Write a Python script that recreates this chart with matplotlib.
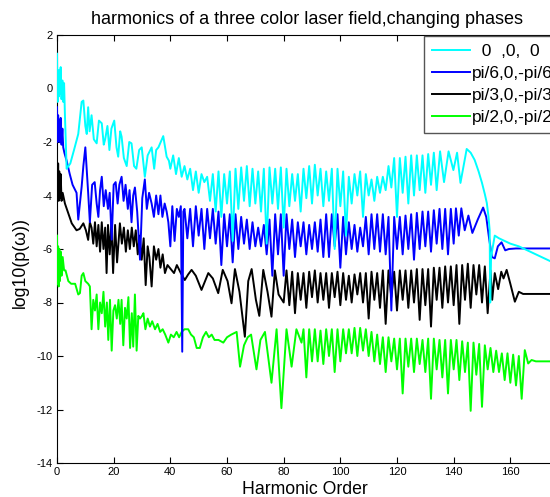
import numpy as np
import matplotlib
matplotlib.use('Agg')
import matplotlib.pyplot as plt

plt.rcParams['font.family'] = ['Liberation Sans', 'DejaVu Sans']
plt.rcParams['axes.unicode_minus'] = False

labels = ['  0  ,0,  0', 'pi/6,0,-pi/6', 'pi/3,0,-pi/3', 'pi/2,0,-pi/2']
colors = ['#00ffff', '#0000ff', '#000000', '#00ff00']

# ---- phases 0,0,0 (cyan) ----
cyan_head_x = [0, 0.2, 0.4, 0.6, 0.8, 1.0, 1.3, 1.6, 1.9, 2.2,
               2.5, 2.8, 3.4, 4.7, 6.0, 7.5, 8.7, 9.3, 10.0, 10.5,
               11.0, 11.5, 12.2, 13.0, 14.0, 14.8, 15.8, 16.5, 17.0, 17.8,
               18.5, 19.2, 20.2, 21.0, 21.6, 22.3, 22.8, 23.6, 24.6, 25.5,
               26.3, 27.2, 28.0, 29.0, 29.9, 31.0, 32.0, 33.4, 34.3, 35.0,
               35.8, 36.6, 37.5, 38.7, 39.5]
cyan_head_y = [1.3, -0.5, 0.6, -0.3, 0.7, -0.2, 0.8, -0.4, 0.3, -0.5,
               0.2, -1.0, -3.0, -2.8, -2.3, -1.7, -0.5, -0.45, -1.4, -1.7,
               -0.7, -1.6, -1.0, -1.9, -2.05, -1.2, -1.3, -2.1, -1.9, -1.4,
               -2.3, -1.5, -1.2, -2.2, -2.55, -1.6, -1.8, -2.6, -2.9, -2.0,
               -2.05, -2.9, -3.0, -2.3, -2.2, -3.3, -2.5, -2.2, -3.0, -2.3,
               -2.2, -2.0, -1.78, -2.55, -2.7]
cyan_grid_start = 40
cyan_grid_y = [-3.0, -2.5, -3.2, -2.6, -3.3, -2.9, -3.4, -3.0, -3.8, -3.1,
               -3.9, -3.2, -3.5, -3.3, -4.2, -3.2, -4.6, -3.1, -4.8, -3.2,
               -4.3, -3.1, -5.7, -3.0, -4.5, -2.95, -4.2, -2.9, -4.4, -3.0,
               -4.3, -3.1, -4.6, -3.0, -5.8, -2.95, -4.3, -3.0, -4.5, -2.95,
               -5.2, -3.0, -4.4, -3.2, -4.2, -3.2, -4.6, -3.0, -4.1, -2.9,
               -4.3, -2.85, -4.0, -3.0, -4.4, -3.1, -4.2, -3.0, -6.0, -3.0,
               -4.4, -3.1, -5.5, -3.3, -4.3, -3.2, -4.0, -3.1, -4.8, -3.2,
               -4.0, -3.4, -4.2, -3.3, -3.9, -3.3, -3.8, -2.9, -3.7, -2.6,
               -4.8, -2.6, -3.9, -2.55, -4.3, -2.5, -4.0, -2.5, -3.8, -2.5,
               -3.9, -2.45, -3.6, -2.4]
cyan_tail_x = [134, 135.2, 136.6, 138.2, 139.9, 141.2, 142.4, 144.6, 146.0, 147.4,
               148.8, 150.0, 151.0, 151.7, 152.3, 152.7, 152.9, 153.2, 154.5, 156,
               158, 160, 163, 166, 170, 174]
cyan_tail_y = [-3.8, -2.35, -3.5, -2.35, -3.05, -2.4, -3.53, -2.26, -2.4, -2.67,
               -3.1, -3.53, -3.95, -4.28, -4.8, -5.3, -8.0, -6.3, -5.5, -5.6,
               -5.7, -5.8, -5.9, -6.05, -6.25, -6.45]

# ---- phases pi/6 (blue) ----
blue_head_x = [0, 0.2, 0.4, 0.6, 0.8, 1.0, 1.3, 1.6, 1.9, 2.2,
               2.6, 3.4, 4.5, 5.5, 6.9, 7.5, 8.7, 9.3, 10.0, 11.0,
               11.6, 12.4, 13.3, 14.0, 14.6, 15.2, 15.8, 16.5, 17.2, 18.0,
               18.6, 19.3, 20.0, 20.7, 21.4, 22.0, 22.8, 23.5, 24.2, 25.0,
               25.6, 26.3, 26.9, 27.5, 28.3, 29.3, 30.1, 31.0, 31.7, 32.5,
               33.4, 34.2, 35.0, 35.8, 36.5, 37.2, 38.0, 38.7, 39.3, 40.0,
               40.7, 41.5, 42.3, 43.0, 43.7, 44.2, 44.6]
blue_head_y = [-0.7, -2.0, -1.0, -1.9, -1.2, -2.0, -1.1, -2.1, -1.5, -2.2,
               -2.4, -2.7, -3.2, -3.6, -3.9, -4.9, -3.67, -2.9, -2.2, -3.9,
               -5.0, -3.6, -3.5, -4.3, -4.8, -3.8, -3.3, -4.4, -3.8, -4.5,
               -3.9, -5.65, -3.6, -3.5, -4.3, -3.6, -3.3, -4.2, -3.6, -4.5,
               -3.8, -5.0, -4.0, -3.7, -4.6, -6.4, -4.1, -3.4, -4.5, -3.9,
               -4.3, -4.8, -4.0, -4.7, -4.0, -4.8, -4.3, -4.6, -5.0, -5.9,
               -4.4, -5.7, -4.5, -4.8, -4.4, -9.84, -4.6]
blue_grid_start = 45
blue_grid_y = [-4.5, -5.6, -4.5, -5.9, -4.4, -5.5, -4.5, -6.0, -4.5, -5.6,
               -4.5, -5.8, -4.6, -6.6, -4.7, -5.9, -4.7, -6.5, -4.7, -6.0,
               -4.8, -5.8, -4.9, -6.0, -5.0, -5.9, -5.2, -5.9, -5.1, -6.2,
               -4.9, -7.0, -4.7, -6.2, -4.7, -7.0, -4.7, -6.0, -4.9, -6.3,
               -5.0, -5.9, -5.0, -6.2, -5.1, -6.0, -5.0, -6.1, -4.9, -6.3,
               -4.7, -6.3, -4.7, -5.9, -4.7, -6.7, -4.8, -6.2, -5.0, -6.0,
               -5.1, -6.1, -5.2, -5.9, -4.8, -6.2, -4.7, -6.0, -4.7, -6.1,
               -4.7, -6.2, -4.8, -8.3, -4.8, -6.0, -4.8, -6.2, -4.75, -6.0,
               -4.7, -6.4, -4.65, -6.0, -4.6, -5.9, -4.6, -6.1, -4.55, -5.8,
               -4.5, -6.0, -4.5, -6.2, -4.5]
blue_tail_x = [140.0, 140.8, 141.8, 142.7, 143.9, 145.2, 146.6, 148.5, 150.4, 151.5,
               152.5, 153.5, 154.5, 155.6, 156.9, 158.2, 159.5, 162.0, 174.0]
blue_tail_y = [-5.8, -4.48, -5.5, -4.48, -5.3, -4.75, -5.4, -4.9, -4.45, -4.8,
               -5.6, -6.3, -6.35, -5.9, -5.75, -6.05, -6.0, -5.98, -5.98]

# ---- phases pi/3 (black) ----
black_head_x = [0, 0.2, 0.4, 0.6, 0.8, 1.0, 1.3, 1.6, 2.0, 2.8,
                4.0, 5.2, 6.9, 8.0, 9.3, 10.2, 11.0, 11.6, 12.2, 12.8,
                13.4, 14.0, 14.6, 15.2, 15.8, 16.4, 17.0, 17.5, 18.0, 18.6,
                19.2, 19.8, 20.5, 21.2, 22.2, 22.9, 23.6, 24.3, 25.0, 25.7,
                26.4, 27.1, 27.8, 28.5, 29.2, 29.9, 30.6, 31.3, 32.0, 32.6,
                33.4, 34.2, 35.0, 35.8, 36.5, 37.3, 38.1, 39.0, 40.4, 41.3,
                42.3, 43.7, 45.1, 46.3, 47.5, 49.0, 51.0, 53.4, 55.0, 56.9,
                58.5, 60.2, 61.6, 62.8, 64.4, 66.3, 67.5, 68.7, 70.2, 71.4,
                72.8, 74.3, 75.7, 76.9, 78.2, 79.4]
black_head_y = [-3.0, -4.1, -2.8, -4.2, -3.1, -4.1, -3.2, -4.2, -3.9, -4.3,
                -4.67, -5.04, -5.3, -5.25, -5.04, -5.3, -5.66, -5.0, -5.2, -5.8,
                -5.0, -5.9, -5.1, -6.1, -5.0, -6.0, -5.2, -6.9, -5.1, -6.2,
                -5.0, -6.9, -5.1, -6.5, -5.04, -5.8, -5.2, -6.1, -5.3, -6.0,
                -5.2, -5.9, -5.3, -6.2, -5.5, -6.4, -5.6, -7.35, -5.9, -6.3,
                -7.4, -5.9, -6.4, -6.0, -6.7, -6.2, -6.9, -6.6, -6.78, -6.9,
                -6.6, -6.9, -7.16, -6.95, -6.78, -7.0, -7.53, -6.9, -7.1, -7.65,
                -6.78, -7.2, -8.03, -6.75, -7.6, -9.28, -7.2, -6.75, -7.9, -8.5,
                -6.78, -7.6, -8.53, -6.8, -7.7, -7.9]
black_grid_start = 80
black_grid_y = [-8.0, -6.8, -8.1, -6.85, -8.4, -6.9, -7.9, -6.9, -8.2, -6.85,
                -7.8, -6.8, -8.0, -6.9, -7.9, -6.9, -8.2, -6.9, -7.8, -6.85,
                -8.1, -6.9, -7.9, -7.0, -8.0, -6.95, -7.7, -6.9, -8.0, -6.9,
                -8.6, -6.85, -7.9, -6.9, -8.2, -6.8, -8.8, -6.8, -7.8, -6.85,
                -8.3, -6.8, -7.9, -6.8, -8.2, -6.8, -8.0, -6.75, -8.65, -6.75,
                -8.1, -6.75, -8.9, -6.7, -7.9, -6.7, -8.2, -6.65, -8.0, -6.65,
                -8.1, -6.6, -8.8, -6.6, -7.9, -6.55, -8.2, -6.6, -7.7, -6.6,
                -8.0, -6.65, -8.4, -6.8]
black_tail_x = [153.6, 154.5, 155.7, 156.8, 157.6, 158.7, 160.0, 161.6, 163.0, 164.5,
                174.0]
black_tail_y = [-7.9, -6.9, -7.5, -6.85, -7.1, -6.78, -7.3, -7.97, -7.6, -7.68,
                -7.68]

# ---- phases pi/2 (green) ----
green_head_x = [0, 0.2, 0.4, 0.6, 0.8, 1.0, 1.3, 1.6, 2.0, 2.5,
                3.0, 4.0, 5.0, 6.4, 7.5, 8.1, 8.7, 9.3, 10.0, 11.0,
                11.6, 12.2, 12.8, 13.4, 14.0, 14.6, 15.2, 15.8, 16.4, 17.0,
                17.6, 18.1, 18.7, 19.3, 19.9, 20.5, 21.1, 21.7, 22.3, 22.8,
                23.4, 24.0, 24.6, 25.2, 25.8, 26.4, 26.9, 27.5, 28.1, 28.7,
                29.3, 30.0, 30.5, 31.2, 32.0, 32.8, 33.6, 34.6, 35.5, 36.4,
                37.3, 38.2, 39.3, 40.2, 41.2, 42.2, 43.1, 44.0, 45.0, 46.3,
                47.3, 48.3, 49.3, 50.4, 51.5, 52.6, 53.6, 54.6, 55.6, 57.0,
                58.7, 60.0, 61.5, 63.4, 64.6, 66.0, 67.3, 68.5, 70.4, 71.8,
                73.4, 75.7, 77.5, 79.2, 81.0, 82.8, 84.5, 86.3]
green_head_y = [-5.5, -7.3, -5.9, -7.4, -6.0, -7.2, -6.1, -7.0, -6.3, -6.8,
                -6.8, -7.2, -7.3, -7.3, -7.7, -7.65, -7.0, -6.9, -7.2, -7.3,
                -7.4, -9.0, -7.9, -8.3, -7.7, -9.0, -8.0, -8.4, -7.6, -8.9,
                -8.0, -9.4, -7.9, -9.8, -8.3, -8.1, -8.6, -7.9, -8.8, -7.9,
                -9.6, -8.2, -8.6, -7.8, -9.7, -8.4, -9.65, -7.7, -9.8, -8.5,
                -8.6, -8.5, -8.4, -9.0, -8.6, -8.9, -8.7, -9.0, -8.8, -9.1,
                -9.0, -9.2, -9.5, -9.2, -9.3, -9.1, -9.3, -9.1, -9.0, -9.0,
                -9.2, -9.3, -9.7, -9.7, -9.3, -9.1, -9.3, -9.2, -9.4, -9.4,
                -9.5, -9.3, -9.2, -9.1, -10.4, -9.6, -9.3, -9.2, -10.5, -9.4,
                -9.1, -11.0, -9.0, -11.95, -9.0, -10.4, -9.0, -9.5]
green_grid_start = 87
green_grid_y = [-9.0, -10.8, -9.0, -10.2, -9.0, -10.2, -9.05, -10.3, -9.0, -10.0,
                -9.0, -10.6, -9.0, -10.2, -9.0, -9.9, -9.0, -9.9, -8.95, -10.0,
                -8.95, -9.8, -9.0, -10.0, -9.1, -10.2, -9.2, -10.3, -9.3, -10.6,
                -9.3, -10.2, -9.35, -10.5, -9.35, -11.4, -9.35, -10.4, -9.35, -10.6,
                -9.35, -10.3, -9.4, -10.6, -9.35, -11.6, -9.35, -10.5, -9.4, -10.8,
                -9.4, -11.4, -9.4, -10.5, -9.4, -10.9, -9.45, -10.6, -9.5, -12.05,
                -9.5, -10.7, -9.55, -11.9, -9.6, -10.5, -9.7, -10.6, -9.8, -10.6,
                -9.9, -10.9, -9.9, -11.0, -9.95, -11.1, -10.0, -11.6]
green_tail_x = [165.1, 166.3, 167.5, 169.0, 174.0]
green_tail_y = [-9.78, -10.28, -10.15, -10.2, -10.2]


def build(head_x, head_y, start, grid_y, tail_x, tail_y):
    grid_x = np.arange(start, start + len(grid_y))
    x = np.concatenate([head_x, grid_x, tail_x])
    y = np.concatenate([head_y, grid_y, tail_y])
    return x, y


series = [
    build(cyan_head_x, cyan_head_y, cyan_grid_start, cyan_grid_y, cyan_tail_x, cyan_tail_y),
    build(blue_head_x, blue_head_y, blue_grid_start, blue_grid_y, blue_tail_x, blue_tail_y),
    build(black_head_x, black_head_y, black_grid_start, black_grid_y, black_tail_x, black_tail_y),
    build(green_head_x, green_head_y, green_grid_start, green_grid_y, green_tail_x, green_tail_y),
]

fig = plt.figure(figsize=(5.5, 4.97), dpi=100)
# axes runs past the right edge of the picture, like the cropped original
ax = fig.add_axes([57 / 550, 34 / 497, 510 / 550, 428 / 497])

handles = []
for i, ((x, y), c, lab) in enumerate(zip(series, colors, labels)):
    h, = ax.plot(x, y, color=c, lw=1.4, label=lab, zorder=10 - i)
    handles.append(h)

ax.set_xlim(0, 180)
ax.set_ylim(-14, 2)
ax.set_xticks(range(0, 161, 20))
ax.set_yticks(range(-14, 3, 2))
ax.tick_params(direction='in', length=4, labelsize=8, pad=3, top=True, right=True)
for s in ax.spines.values():
    s.set_linewidth(0.8)

fig.text(307 / 550, 1 - 19 / 497, 'harmonics of a three color laser field,changing phases',
         ha='center', va='center', fontsize=13)
fig.text(305 / 550, 1 - 490 / 497, 'Harmonic Order', ha='center', va='center', fontsize=12.7)
fig.text(20 / 550, 1 - 262 / 497, 'log10(p(\u03c9))', ha='center', va='center',
         rotation=90, fontsize=12.7)

leg = fig.legend(handles=handles, loc='upper left', bbox_to_anchor=(424 / 550, 1 - 36 / 497),
                 fontsize=12.5, handlelength=2.2, handletextpad=0.1, borderaxespad=0,
                 labelspacing=0.39, fancybox=False, framealpha=1, borderpad=0.47)
leg.get_frame().set_edgecolor('#555555')
leg.get_frame().set_linewidth(1.0)
leg.set_zorder(20)

fig.savefig('out.png', dpi=100)
